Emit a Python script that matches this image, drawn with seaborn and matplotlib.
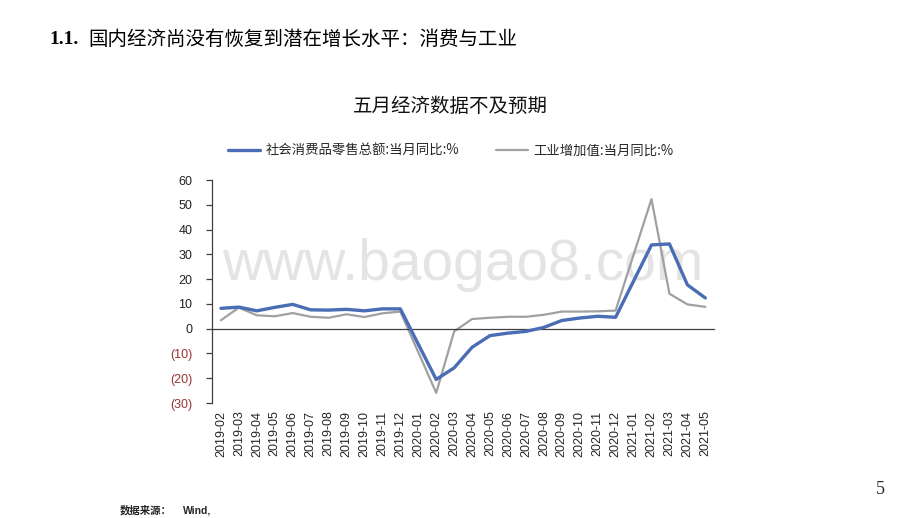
import numpy as np
import pandas as pd
import matplotlib
matplotlib.use('Agg')
import matplotlib.pyplot as plt
import seaborn as sns
from matplotlib.ticker import FixedLocator, FuncFormatter
from matplotlib.lines import Line2D

# ---- data ----
months = ['2019-02', '2019-03', '2019-04', '2019-05', '2019-06', '2019-07',
          '2019-08', '2019-09', '2019-10', '2019-11', '2019-12', '2020-01',
          '2020-02', '2020-03', '2020-04', '2020-05', '2020-06', '2020-07',
          '2020-08', '2020-09', '2020-10', '2020-11', '2020-12', '2021-01',
          '2021-02', '2021-03', '2021-04', '2021-05']

retail = [8.2, 8.7, 7.2, 8.6, 9.8, 7.6, 7.5, 7.8, 7.2, 8.0, 8.0, np.nan,
          -20.5, -15.8, -7.5, -2.8, -1.8, -1.1, 0.5, 3.3, 4.3, 5.0, 4.6, np.nan,
          33.8, 34.2, 17.7, 12.4]

industry = [3.4, 8.5, 5.4, 5.0, 6.3, 4.8, 4.4, 5.8, 4.7, 6.2, 6.9, np.nan,
            -25.9, -1.1, 3.9, 4.4, 4.8, 4.8, 5.6, 6.9, 6.9, 7.0, 7.3, np.nan,
            52.3, 14.1, 9.8, 8.8]

series_names = ['社会消费品零售总额:当月同比:%', '工业增加值:当月同比:%']
yticks = [-30, -20, -10, 0, 10, 20, 30, 40, 50, 60]

df = pd.DataFrame({'x': list(range(len(months))) * 2,
                   'value': retail + industry,
                   'series': [series_names[0]] * len(months) + [series_names[1]] * len(months)})
df = df.dropna()  # missing Jan values: line joins Dec to Feb

sns.set_style('white')
plt.rcParams['font.family'] = ['Liberation Sans', 'Noto Sans CJK SC', 'DejaVu Sans']
plt.rcParams['axes.unicode_minus'] = False

fig = plt.figure(figsize=(9.2, 5.18), dpi=100)
ax = fig.add_axes([0.2304, 0.222, 0.546, 0.4305])

# watermark
ax.text(0.5, 0.62, 'www.baogao8.com', transform=ax.transAxes, ha='center', va='center',
        fontsize=41, color='#e4e4e4', family='Liberation Sans', zorder=0)

palette = {series_names[0]: '#4a6db5', series_names[1]: '#a0a0a0'}
widths = {series_names[0]: 2.4, series_names[1]: 1.6}
sns.lineplot(data=df[df['series'] == series_names[1]], x='x', y='value', color=palette[series_names[1]],
             linewidth=widths[series_names[1]], ax=ax, legend=False, zorder=2)
sns.lineplot(data=df[df['series'] == series_names[0]], x='x', y='value', color=palette[series_names[0]],
             linewidth=widths[series_names[0]], ax=ax, legend=False, zorder=3)

ax.set_xlim(-0.5, len(months) - 0.5)
ax.set_ylim(-30, 60)
ax.set_xlabel('')
ax.set_ylabel('')

# x axis sits on zero, labels placed low
for s in ['top', 'right']:
    ax.spines[s].set_visible(False)
ax.spines['bottom'].set_position(('data', 0))
for s in ['bottom', 'left']:
    ax.spines[s].set_color('#404040')
    ax.spines[s].set_linewidth(0.9)

ax.xaxis.set_major_locator(FixedLocator(range(len(months))))
ax.set_xticklabels(months, rotation=90, fontsize=9)
ax.xaxis.set_minor_locator(FixedLocator(np.arange(0.5, len(months), 1.0)))
ax.tick_params(axis='x', which='major', length=0, pad=59)
ax.tick_params(axis='x', which='minor', length=4, width=0.9, color='#404040', direction='out')

ax.set_yticks(yticks)
ax.yaxis.set_major_formatter(FuncFormatter(lambda v, p: f'({abs(int(v))})' if v < 0 else f'{int(v)}'))
ax.tick_params(axis='y', which='major', left=True, direction='out', length=4, width=0.9,
               color='#404040', labelsize=9, pad=10)
for lbl, v in zip(ax.get_yticklabels(), yticks):
    lbl.set_color('#993333' if v < 0 else '#222222')

# legend
handles = [Line2D([], [], color=palette[n], linewidth=widths[n]) for n in series_names]
fig.legend(handles, series_names, loc='center', bbox_to_anchor=(0.49, 0.709), ncol=2, frameon=False,
           fontsize=9.6, handlelength=2.4, columnspacing=2.8, handletextpad=0.4,
           prop={'family': ['Noto Sans CJK SC'], 'size': 9.6})

# titles and slide text
fig.text(0.49, 0.795, '五月经济数据不及预期', ha='center', va='center', fontsize=14,
         family=['Noto Sans CJK SC'], color='#111111')
fig.text(0.054, 0.923, '1.1.', ha='left', va='center', fontsize=14, fontweight='bold',
         family=['Liberation Serif'], color='#000000')
fig.text(0.096, 0.923, '国内经济尚没有恢复到潜在增长水平：消费与工业', ha='left', va='center',
         fontsize=14, fontweight='medium', family=['Noto Sans CJK SC'], color='#000000')
fig.text(0.957, 0.055, '5', ha='center', va='center', fontsize=13, family=['Liberation Serif'])
fig.text(0.13, 0.014, '数据来源：', ha='left', va='center', fontsize=7.5, fontweight='bold',
         family=['Noto Sans CJK SC'])
fig.text(0.199, 0.014, 'Wind,', ha='left', va='center', fontsize=7.5, fontweight='bold',
         family=['Liberation Sans'])

fig.savefig('out.png', dpi=100)
